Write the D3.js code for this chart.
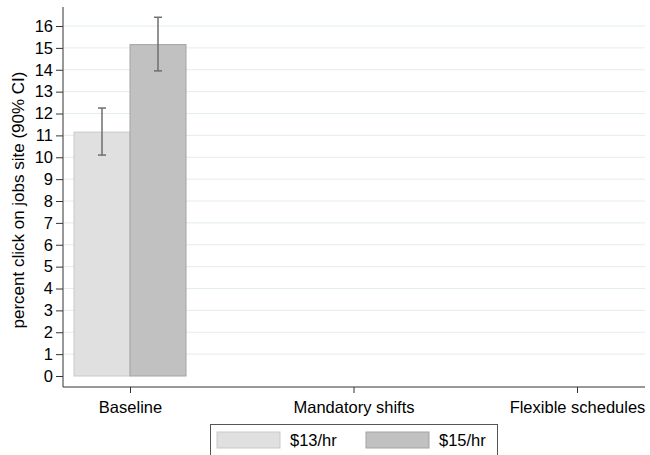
<!DOCTYPE html>
<html>
<head>
<meta charset="utf-8">
<script src="https://cdn.jsdelivr.net/npm/d3@7"></script>
<style>
  body { margin: 0; background: #fff; }
  text { font-family: "Liberation Sans", Arial, sans-serif; }
</style>
</head>
<body>
<div id="chart"></div>
<script>
const categories = ["Baseline", "Mandatory shifts", "Flexible schedules"];
const series = ["$13/hr", "$15/hr"];
// value, ci low, ci high per category (null = no bar)
const wage13 = [[11.15, 10.1, 12.25], null, null];
const wage15 = [[15.15, 13.95, 16.4], null, null];
const yTicks = d3.range(0, 17);

const colors = { "$13/hr": "#e0e0e0", "$15/hr": "#c1c1c1" };
const strokes = { "$13/hr": "#c9c9c9", "$15/hr": "#a3a3a3" };

const width = 650, height = 455;
const axisLeftX = 63, axisRightX = 645, axisBottomY = 387;
const fs = "16.5px";

const svg = d3.select("#chart").append("svg")
  .attr("width", width).attr("height", height);

const y = d3.scaleLinear().domain([0, 16.87]).range([376, 7]);
const x = d3.scalePoint().domain(categories).range([130, 577]);
const xs = d3.scaleBand().domain(series).range([-56, 56]);

// gridlines
svg.append("g").selectAll("line")
  .data(yTicks.filter((d) => d > 0))
  .enter().append("line")
  .attr("x1", axisLeftX + 1).attr("x2", axisRightX)
  .attr("y1", (d) => y(d)).attr("y2", (d) => y(d))
  .attr("stroke", "#e3ecef").attr("stroke-width", 1);

// bars
const rows = [];
categories.forEach((c, i) => {
  [wage13, wage15].forEach((s, j) => {
    if (s[i]) rows.push({ cat: c, ser: series[j], v: s[i][0], lo: s[i][1], hi: s[i][2] });
  });
});

svg.selectAll(".bar").data(rows).enter().append("rect")
  .attr("class", "bar")
  .attr("x", (d) => x(d.cat) + xs(d.ser))
  .attr("y", (d) => y(d.v))
  .attr("width", xs.bandwidth())
  .attr("height", (d) => y(0) - y(d.v))
  .attr("fill", (d) => colors[d.ser])
  .attr("stroke", (d) => strokes[d.ser]);

// error bars
const eb = svg.selectAll(".err").data(rows).enter().append("g").attr("class", "err")
  .attr("stroke", "#6e6e6e").attr("stroke-width", 1.5);
const cx = (d) => x(d.cat) + xs(d.ser) + xs.bandwidth() / 2;
eb.append("line").attr("x1", cx).attr("x2", cx)
  .attr("y1", (d) => y(d.lo)).attr("y2", (d) => y(d.hi));
eb.append("line").attr("x1", (d) => cx(d) - 4).attr("x2", (d) => cx(d) + 4)
  .attr("y1", (d) => y(d.lo)).attr("y2", (d) => y(d.lo));
eb.append("line").attr("x1", (d) => cx(d) - 4).attr("x2", (d) => cx(d) + 4)
  .attr("y1", (d) => y(d.hi)).attr("y2", (d) => y(d.hi));

// y axis
const yAxis = svg.append("g")
  .attr("transform", "translate(" + axisLeftX + ",0)")
  .call(d3.axisLeft(y).tickValues(yTicks).tickSize(7).tickPadding(3).tickSizeOuter(0));
yAxis.select(".domain").remove();
yAxis.selectAll("text").style("font-size", fs).attr("fill", "#000");
yAxis.selectAll(".tick line").attr("stroke", "#333");
svg.append("line")
  .attr("x1", axisLeftX).attr("x2", axisLeftX)
  .attr("y1", y(16.87)).attr("y2", axisBottomY)
  .attr("stroke", "#333");

// x axis
const xAxis = svg.append("g")
  .attr("transform", "translate(0," + axisBottomY + ")")
  .call(d3.axisBottom(x).tickSize(6).tickSizeOuter(0));
xAxis.select(".domain").remove();
xAxis.selectAll("text").style("font-size", fs).attr("fill", "#000").attr("dy", "1.05em");
xAxis.selectAll(".tick line").attr("stroke", "#333");
svg.append("line")
  .attr("x1", axisLeftX).attr("x2", axisRightX)
  .attr("y1", axisBottomY).attr("y2", axisBottomY)
  .attr("stroke", "#333");

// y label
svg.append("text")
  .attr("transform", "translate(24,200) rotate(-90)")
  .attr("text-anchor", "middle")
  .style("font-size", "17px")
  .text("percent click on jobs site (90% CI)");

// legend
const lg = svg.append("g");
lg.append("rect")
  .attr("x", 210.5).attr("y", 424.5).attr("width", 287).attr("height", 40)
  .attr("fill", "#fff").attr("stroke", "#555");
const items = lg.selectAll(".item").data(series).enter().append("g")
  .attr("transform", (d, i) => "translate(" + (217 + i * 149) + ",432)");
items.append("rect")
  .attr("width", 63).attr("height", 16)
  .attr("fill", (d) => colors[d]).attr("stroke", (d) => strokes[d]);
items.append("text")
  .attr("x", 73).attr("y", 14)
  .style("font-size", fs)
  .text((d) => d);
</script>
</body>
</html>
